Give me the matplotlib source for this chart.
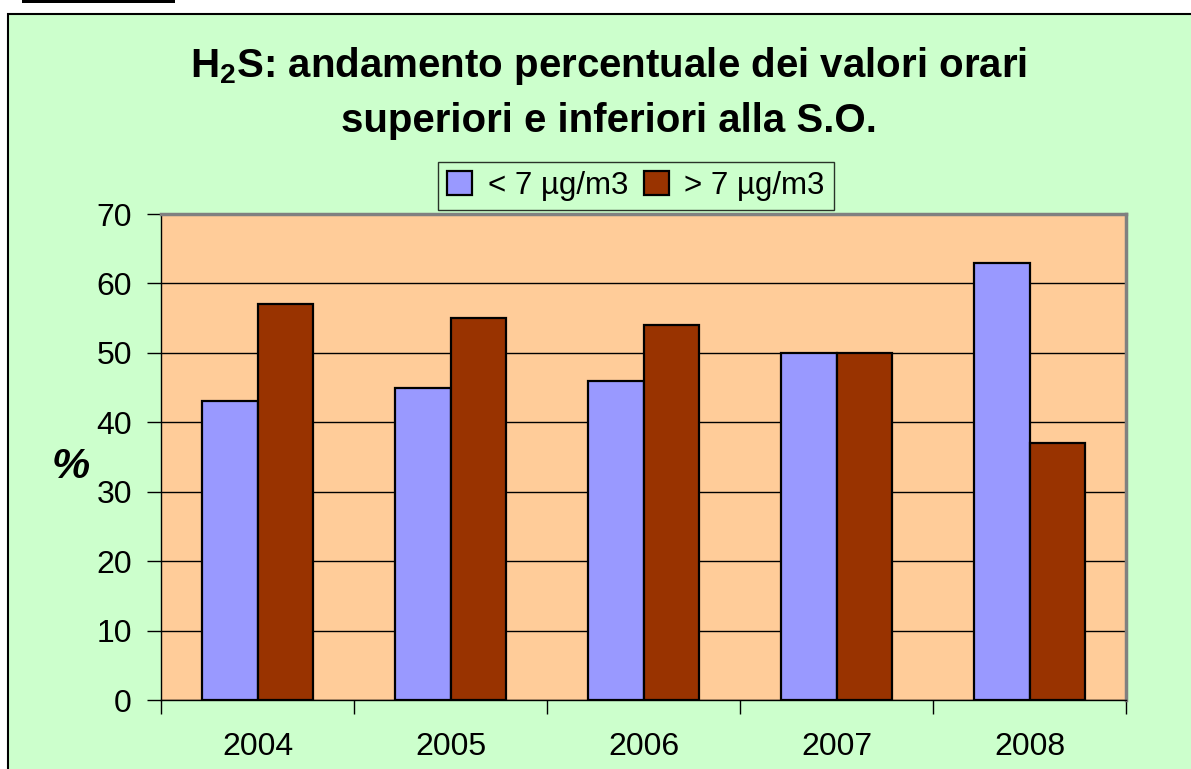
import matplotlib
matplotlib.use("Agg")
import matplotlib.pyplot as plt
from matplotlib.patches import Rectangle
import numpy as np

plt.rcParams['font.family'] = ['Liberation Sans', 'DejaVu Sans']
plt.rcParams['mathtext.fontset'] = 'custom'
plt.rcParams['mathtext.rm'] = 'Liberation Sans'
plt.rcParams['mathtext.bf'] = 'Liberation Sans:bold'

# data
years = ['2004', '2005', '2006', '2007', '2008']
below = [43, 45, 46, 50, 63]   # < 7 ug/m3
above = [57, 55, 54, 50, 37]   # > 7 ug/m3
labels = ['< 7 µg/m3', '> 7 µg/m3']
colors = ['#9999FF', '#993300']

fig = plt.figure(figsize=(11.91, 7.69), dpi=100)
fig.patch.set_facecolor('white')

# green chart box and the little black bar above it
fig.patches.append(Rectangle((8 / 1191, -0.1), 1.2, 1 - 14 / 769 + 0.1,
                             transform=fig.transFigure, facecolor='#CCFFCC',
                             edgecolor='black', linewidth=1.5, zorder=-2))
fig.patches.append(Rectangle((22 / 1191, 1 - 3 / 769), 153 / 1191, 0.01,
                             transform=fig.transFigure, facecolor='black',
                             edgecolor='none', zorder=-2))

ax = fig.add_axes([161 / 1191, 1 - 700 / 769, 965 / 1191, 486 / 769])
ax.set_facecolor('#FFCC99')

x = np.arange(len(years))
w = 1 / 3.5
ax.bar(x - w / 2, below, w, color=colors[0], edgecolor='black', linewidth=1.6,
       label=labels[0], zorder=3)
ax.bar(x + w / 2, above, w, color=colors[1], edgecolor='black', linewidth=1.6,
       label=labels[1], zorder=3)

ax.set_xlim(-0.5, len(years) - 0.5)
ax.set_ylim(0, 70)
ax.set_yticks(range(0, 71, 10))
ax.yaxis.grid(True, color='black', linewidth=1, zorder=1)
ax.set_axisbelow(True)

ax.set_xticks(np.arange(-0.5, len(years), 1))
ax.set_xticklabels([])
ax.set_xticks(x, minor=True)
ax.set_xticklabels(years, minor=True)
ax.tick_params(axis='x', which='minor', length=0, pad=23, labelsize=23)
ax.tick_params(axis='x', which='major', length=10, width=1, direction='out')
ax.tick_params(axis='y', length=10, width=1, direction='out', labelsize=23, pad=11)

for s in ['top', 'right']:
    ax.spines[s].set_color('#808080')
    ax.spines[s].set_linewidth(2.5)
ax.spines['left'].set_color('black')
ax.spines['bottom'].set_color('black')
ax.spines['left'].set_linewidth(1)
ax.spines['bottom'].set_linewidth(1)

ax.set_ylabel('%', fontsize=31, fontweight='bold', fontstyle='italic',
              rotation=0, labelpad=0, va='center', ha='center')
ax.yaxis.set_label_coords(-0.094, 0.48)

fig.text(0.511, 1 - 77 / 769, 'H$_\\mathbf{2}$S: andamento percentuale dei valori orari',
         ha='center', va='baseline', fontsize=29, fontweight='bold')
fig.text(0.511, 1 - 132 / 769, 'superiori e inferiori alla S.O.',
         ha='center', va='baseline', fontsize=29, fontweight='bold')

leg = fig.legend(loc='center', bbox_to_anchor=(636 / 1191, 1 - 186 / 769),
                 ncol=2, fontsize=22.5, frameon=True, fancybox=False,
                 handlelength=0.8, handleheight=0.8, handletextpad=0.5,
                 columnspacing=0.5, borderpad=0.3, borderaxespad=0)
leg.get_frame().set_edgecolor('black')
leg.get_frame().set_facecolor('#CCFFCC')
leg.get_frame().set_linewidth(1)

fig.savefig('out.png', dpi=100, facecolor=fig.get_facecolor())
